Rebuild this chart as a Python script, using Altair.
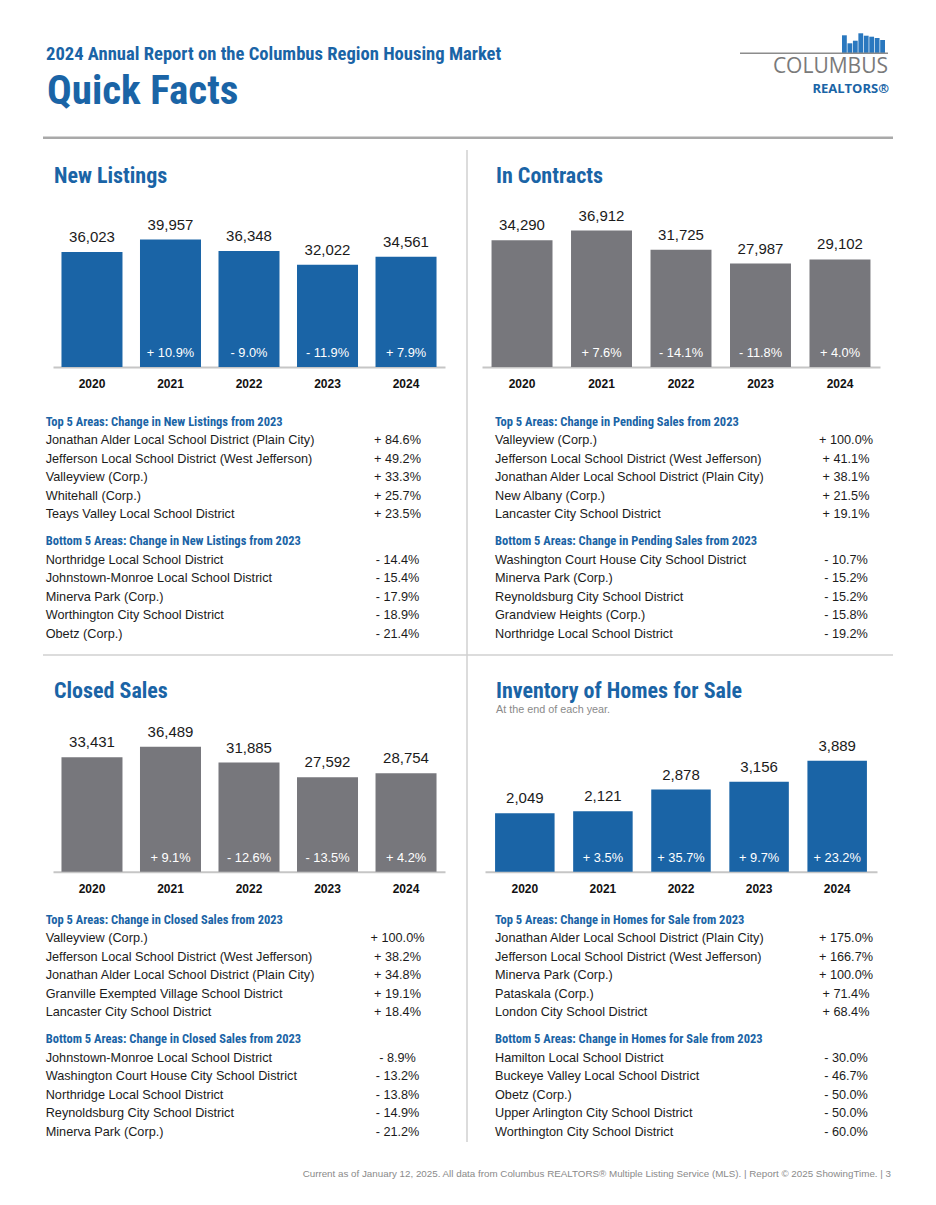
import altair as alt
import pandas as pd

# ---------------- data ----------------
years = ["2020", "2021", "2022", "2023", "2024"]

new_listings = [36023, 39957, 36348, 32022, 34561]
new_listings_pct = [None, 10.9, -9.0, -11.9, 7.9]
in_contracts = [34290, 36912, 31725, 27987, 29102]
in_contracts_pct = [None, 7.6, -14.1, -11.8, 4.0]
closed_sales = [33431, 36489, 31885, 27592, 28754]
closed_sales_pct = [None, 9.1, -12.6, -13.5, 4.2]
inventory = [2049, 2121, 2878, 3156, 3889]
inventory_pct = [None, 3.5, 35.7, 9.7, 23.2]

nl_top_areas = ["Jonathan Alder Local School District (Plain City)",
                "Jefferson Local School District (West Jefferson)",
                "Valleyview (Corp.)", "Whitehall (Corp.)",
                "Teays Valley Local School District"]
nl_top_changes = [84.6, 49.2, 33.3, 25.7, 23.5]
nl_bottom_areas = ["Northridge Local School District",
                   "Johnstown-Monroe Local School District",
                   "Minerva Park (Corp.)", "Worthington City School District",
                   "Obetz (Corp.)"]
nl_bottom_changes = [-14.4, -15.4, -17.9, -18.9, -21.4]

ic_top_areas = ["Valleyview (Corp.)",
                "Jefferson Local School District (West Jefferson)",
                "Jonathan Alder Local School District (Plain City)",
                "New Albany (Corp.)", "Lancaster City School District"]
ic_top_changes = [100.0, 41.1, 38.1, 21.5, 19.1]
ic_bottom_areas = ["Washington Court House City School District",
                   "Minerva Park (Corp.)", "Reynoldsburg City School District",
                   "Grandview Heights (Corp.)", "Northridge Local School District"]
ic_bottom_changes = [-10.7, -15.2, -15.2, -15.8, -19.2]

cs_top_areas = ["Valleyview (Corp.)",
                "Jefferson Local School District (West Jefferson)",
                "Jonathan Alder Local School District (Plain City)",
                "Granville Exempted Village School District",
                "Lancaster City School District"]
cs_top_changes = [100.0, 38.2, 34.8, 19.1, 18.4]
cs_bottom_areas = ["Johnstown-Monroe Local School District",
                   "Washington Court House City School District",
                   "Northridge Local School District",
                   "Reynoldsburg City School District", "Minerva Park (Corp.)"]
cs_bottom_changes = [-8.9, -13.2, -13.8, -14.9, -21.2]

inv_top_areas = ["Jonathan Alder Local School District (Plain City)",
                 "Jefferson Local School District (West Jefferson)",
                 "Minerva Park (Corp.)", "Pataskala (Corp.)",
                 "London City School District"]
inv_top_changes = [175.0, 166.7, 100.0, 71.4, 68.4]
inv_bottom_areas = ["Hamilton Local School District",
                    "Buckeye Valley Local School District", "Obetz (Corp.)",
                    "Upper Arlington City School District",
                    "Worthington City School District"]
inv_bottom_changes = [-30.0, -46.7, -50.0, -50.0, -60.0]

skyline_heights = [18, 10, 12.6, 20, 17.6, 16.6, 15.3, 13.3]

# ---------------- styles ----------------
W, H = 920, 1189
BLUE = "#1a64a6"
GRAYBAR = "#77777c"
TXT = "#1b1b1b"
NARROW = ("Roboto Condensed, Liberation Sans Narrow, Arial Narrow, "
          "DejaVu Sans Condensed, Lato, sans-serif")
SANS = "Liberation Sans"


def fmt(v):
    if v is None:
        return ""
    return ("+ " if v >= 0 else "- ") + f"{abs(v):.1f}%"


def static_text(text, x, y, **kw):
    return alt.Chart(pd.DataFrame({"t": [text]})).mark_text(
        baseline="alphabetic", **kw
    ).encode(x=alt.value(x), y=alt.value(y), text="t:N")


def hrule(x1, x2, y, color, width):
    return alt.Chart(pd.DataFrame({"a": [0]})).mark_rule(
        color=color, strokeWidth=width
    ).encode(x=alt.value(x1), x2=alt.value(x2), y=alt.value(y))


def vrule(x, y1, y2, color, width):
    return alt.Chart(pd.DataFrame({"a": [0]})).mark_rule(
        color=color, strokeWidth=width
    ).encode(x=alt.value(x), y=alt.value(y1), y2=alt.value(y2))


def bar_panel(values, pct, color, xr, pi, po, base, upp):
    df = pd.DataFrame({"year": years, "value": values,
                       "pct": [fmt(v) for v in pct]})
    xs = alt.Scale(domain=years, range=list(xr), paddingInner=pi,
                   paddingOuter=po)
    ys = alt.Scale(domain=[0, 150 * upp], range=[base, base - 150],
                   nice=False, zero=True)
    axis = alt.Axis(title=None, orient="bottom", offset=base - H,
                    ticks=False, tickSize=0, domain=True,
                    domainColor="#c6c6c6", domainWidth=2, grid=False,
                    labelFont=SANS, labelFontSize=12, labelFontWeight="bold",
                    labelColor="#111111", labelPadding=20.7,
                    labelBaseline="alphabetic", labelAngle=0)
    b = alt.Chart(df).encode(
        x=alt.X("year:N", scale=xs, axis=axis),
        y=alt.Y("value:Q", scale=ys, axis=None),
    )
    bars = b.mark_bar(color=color)
    vals = b.mark_text(dy=-10, baseline="alphabetic", font=SANS,
                       fontSize=15, color=TXT).encode(
        text=alt.Text("value:Q", format=","))
    pcts = b.mark_text(dy=-10, baseline="alphabetic", font=SANS,
                       fontSize=12.8, color="white").encode(
        y=alt.datum(0), text="pct:N")
    return alt.layer(bars, vals, pcts)


def table(name, top_a, top_c, bot_a, bot_c, tx, cx, y0, y1):
    slots, areas, chg = [], [], []
    for i, (a, c) in enumerate(zip(top_a, top_c)):
        slots.append(i + 1); areas.append(a); chg.append(fmt(c))
    for i, (a, c) in enumerate(zip(bot_a, bot_c)):
        slots.append(7.45 + i); areas.append(a); chg.append(fmt(c))
    df = pd.DataFrame({"slot": slots, "area": areas, "chg": chg})
    heads = pd.DataFrame({
        "slot": [0, 6.45],
        "t": [f"Top 5 Areas: Change in {name} from 2023",
              f"Bottom 5 Areas: Change in {name} from 2023"]})
    ys = alt.Scale(domain=[0, 11.45], range=[y0, y1], nice=False, zero=False)
    hd = alt.Chart(heads).mark_text(
        align="left", baseline="alphabetic", font=NARROW, fontWeight="bold",
        fontSize=12.5, color=BLUE).encode(
        x=alt.value(tx), y=alt.Y("slot:Q", scale=ys, axis=None), text="t:N")
    nm = alt.Chart(df).mark_text(
        align="left", baseline="alphabetic", font=SANS, fontSize=12.7,
        color=TXT).encode(
        x=alt.value(tx), y=alt.Y("slot:Q", scale=ys, axis=None), text="area:N")
    ch = alt.Chart(df).mark_text(
        align="center", baseline="alphabetic", font=SANS, fontSize=12.7,
        color=TXT).encode(
        x=alt.value(cx), y=alt.Y("slot:Q", scale=ys, axis=None), text="chg:N")
    return alt.layer(hd, nm, ch)


def skyline():
    df = pd.DataFrame({"b": list(range(len(skyline_heights))),
                       "h": skyline_heights})
    return alt.Chart(df).mark_bar(color="#2a78bf").encode(
        x=alt.X("b:O", scale=alt.Scale(range=[834, 877], paddingInner=0.12,
                                       paddingOuter=0), axis=None),
        y=alt.Y("h:Q", scale=alt.Scale(domain=[0, 20], range=[45.3, 25.3],
                                       nice=False), axis=None),
    )


layers = [
    # header
    static_text("2024 Annual Report on the Columbus Region Housing Market",
                38, 51.5, align="left", font=NARROW, fontWeight="bold",
                fontSize=18.6, color=BLUE),
    static_text("Quick Facts", 39, 96, align="left", font=NARROW,
                fontWeight="bold", fontSize=41, color=BLUE),
    skyline(),
    hrule(732, 880, 45.3, "#8c8c8c", 1.5),
    static_text("COLUMBUS", 880, 65, align="right", font="Open Sans",
                fontSize=21, color="#7a7a7a"),
    static_text("REALTORS\u00ae", 881, 85, align="right", font="Open Sans",
                fontWeight="bold", fontSize=13, color=BLUE),
    hrule(35, 885, 129.7, "#a9a9a9", 2.5),
    vrule(459, 142, 1134, "#d0d0d0", 1.5),
    hrule(35, 885, 647, "#d0d0d0", 1.5),
    # panel titles
    static_text("New Listings", 46, 175.3, align="left", font=NARROW,
                fontWeight="bold", fontSize=22, color=BLUE),
    static_text("In Contracts", 488, 174.7, align="left", font=NARROW,
                fontWeight="bold", fontSize=22, color=BLUE),
    static_text("Closed Sales", 46, 690.3, align="left", font=NARROW,
                fontWeight="bold", fontSize=22, color=BLUE),
    static_text("Inventory of Homes for Sale", 488, 689.7, align="left",
                font=NARROW, fontWeight="bold", fontSize=22, color=BLUE),
    static_text("At the end of each year.", 488, 705.3, align="left",
                font=SANS, fontSize=10.8, color="#8a8a8a"),
    # bar panels
    bar_panel(new_listings, new_listings_pct, BLUE, (45, 437), 0.223, 0.108,
              359, 313.4),
    bar_panel(in_contracts, in_contracts_pct, GRAYBAR, (474, 872), 0.233, 0.12,
              359, 270.5),
    bar_panel(closed_sales, closed_sales_pct, GRAYBAR, (45, 437), 0.223, 0.108,
              863.7, 292.0),
    bar_panel(inventory, inventory_pct, BLUE, (477, 869), 0.238, 0.129,
              863.7, 35.05),
    # tables
    table("New Listings", nl_top_areas, nl_top_changes, nl_bottom_areas,
          nl_bottom_changes, 37.7, 389.5, 417.7, 629.5),
    table("Pending Sales", ic_top_areas, ic_top_changes, ic_bottom_areas,
          ic_bottom_changes, 487, 838, 417.7, 629.5),
    table("Closed Sales", cs_top_areas, cs_top_changes, cs_bottom_areas,
          cs_bottom_changes, 37.7, 389.5, 916, 1127.8),
    table("Homes for Sale", inv_top_areas, inv_top_changes, inv_bottom_areas,
          inv_bottom_changes, 487, 838, 916, 1127.8),
    # footer
    static_text("Current as of January 12, 2025.  All data from Columbus "
                "REALTORS\u00ae Multiple Listing Service (MLS).  |  Report "
                "\u00a9 2025 ShowingTime.  |  3",
                883, 1169, align="right", font=SANS, fontSize=9.8,
                color="#8a8a8a"),
]

chart = alt.layer(*layers).resolve_scale(
    x="independent", y="independent"
).properties(
    width=W, height=H, padding=0,
    autosize=alt.AutoSizeParams(type="none"),
).configure_view(stroke=None)

chart.save("out.html", embed_options={"renderer": "svg", "actions": False})
